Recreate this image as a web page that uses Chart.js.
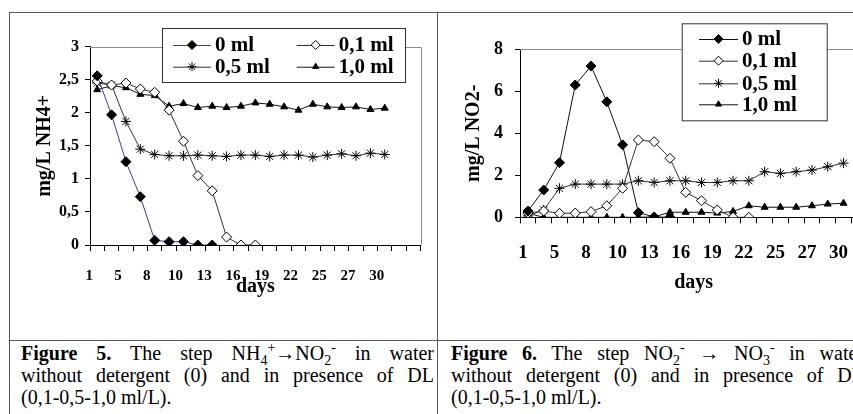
<!DOCTYPE html>
<html>
<head>
<meta charset="utf-8">
<script src="https://cdn.jsdelivr.net/npm/chart.js@4.4.0/dist/chart.umd.min.js"></script>
<style>
body { margin:0; width:853px; height:414px; overflow:hidden; background:#fff; position:relative;
       font-family:"Liberation Serif","Times New Roman",serif; }
.ln { position:absolute; background:#5a5a5a; }
canvas { position:absolute; }
.cap { position:absolute; top:342px; width:413px; font-size:20px; line-height:22px; color:#000; }
.cap div { text-align:justify; text-align-last:justify; }
.cap div.last { text-align-last:left; }
sub, sup { font-size:0.7em; line-height:0; }
</style>
</head>
<body>
<div class="ln" style="left:9px;top:12px;width:844px;height:1px"></div>
<div class="ln" style="left:9px;top:12px;width:1px;height:402px"></div>
<div class="ln" style="left:437px;top:12px;width:1px;height:402px"></div>
<div class="ln" style="left:9px;top:340px;width:844px;height:1px"></div>

<canvas id="fig5" width="427" height="326" style="left:10px;top:13px"></canvas>
<canvas id="fig6" width="460" height="326" style="left:438px;top:13px"></canvas>

<div class="cap" style="left:21px">
  <div><b>Figure 5.</b> The step NH<sub>4</sub><sup>+</sup>→NO<sub>2</sub><sup>-</sup> in water</div>
  <div>without detergent (0) and in presence of DL</div>
  <div class="last">(0,1-0,5-1,0 ml/L).</div>
</div>
<div class="cap" style="left:451px">
  <div><b>Figure 6.</b> The step NO<sub>2</sub><sup>-</sup> → NO<sub>3</sub><sup>-</sup> in water</div>
  <div>without detergent (0) and in presence of DL</div>
  <div class="last">(0,1-0,5-1,0 ml/L).</div>
</div>

<script>
// day labels shown under every second category
var dayTicks = ['1', '5', '8', '10', '13', '16', '19', '22', '25', '27', '30'];
var seriesNames = ['0 ml', '0,1 ml', '0,5 ml', '1,0 ml'];

// Figure 5 - NH4+ (mg/L)
var nh4_0 = [2.56, 1.97, 1.26, 0.73, 0.07, 0.05, 0.05, 0, 0];
var nh4_01 = [2.48, 2.42, 2.45, 2.36, 2.31, 2.04, 1.57, 1.05, 0.82, 0.12, 0, 0];
var nh4_05 = [2.45, 2.42, 1.87, 1.45, 1.37, 1.35, 1.35, 1.36, 1.35, 1.34, 1.36,
              1.36, 1.34, 1.36, 1.36, 1.33, 1.36, 1.38, 1.35, 1.39, 1.37];
var nh4_10 = [2.35, 2.41, 2.38, 2.28, 2.26, 2.10, 2.14, 2.08, 2.10, 2.08, 2.10,
              2.15, 2.13, 2.09, 2.04, 2.13, 2.09, 2.08, 2.09, 2.05, 2.07];

// Figure 6 - NO2- (mg/L)
var no2_0 = [0.3, 1.3, 2.6, 6.3, 7.2, 5.5, 3.45, 0.22, 0.02, 0];
var no2_01 = [0.2, 0.3, 0.19, 0.2, 0.27, 0.55, 1.38, 3.68, 3.6, 2.81, 1.19, 0.79, 0.35, 0, 0];
var no2_05 = [0.06, 0.35, 1.38, 1.58, 1.58, 1.58, 1.58, 1.74, 1.66, 1.74, 1.74,
              1.66, 1.66, 1.74, 1.74, 2.17, 2.09, 2.17, 2.25, 2.41, 2.58];
var no2_10 = [0.19, 0, 0, 0, 0, 0, 0, 0, 0.02, 0.24, 0.24, 0.24, 0.2, 0.28, 0.55,
              0.48, 0.48, 0.48, 0.55, 0.63, 0.67];

var markers = [
  { pointStyle: 'rectRot', radius: 5, bg: '#000' },
  { pointStyle: 'rectRot', radius: 5, bg: '#fff' },
  { pointStyle: 'star', radius: 5, bg: '#000' },
  { pointStyle: 'triangle', radius: 4, bg: '#000' }
];

Chart.defaults.font.family = '"Liberation Serif","Times New Roman",serif';
Chart.defaults.font.weight = 'bold';
Chart.defaults.color = '#000';

function categoryLabels(n) {
  var out = [];
  for (var i = 0; i < n; i++) {
    out.push(i % 2 === 0 && dayTicks[i / 2] ? dayTicks[i / 2] : '');
  }
  return out;
}

// gray frame on top and right of the plot area
var plotFrame = {
  id: 'plotFrame',
  beforeDatasetsDraw: function(chart) {
    var a = chart.chartArea, ctx = chart.ctx;
    ctx.save();
    ctx.strokeStyle = '#8a8a8a';
    ctx.lineWidth = 1;
    ctx.beginPath();
    ctx.moveTo(a.left, Math.round(a.top) + 0.5);
    ctx.lineTo(Math.round(a.right) + 0.5, Math.round(a.top) + 0.5);
    ctx.lineTo(Math.round(a.right) + 0.5, a.bottom);
    ctx.stroke();
    ctx.restore();
  }
};

// Excel style boxed legend with line + marker samples
var boxLegend = {
  id: 'boxLegend',
  afterDraw: function(chart, args, o) {
    var ctx = chart.ctx;
    ctx.save();
    ctx.fillStyle = '#fff';
    ctx.fillRect(o.box[0], o.box[1], o.box[2], o.box[3]);
    ctx.strokeStyle = '#333';
    ctx.lineWidth = 1;
    ctx.strokeRect(o.box[0] + 0.5, o.box[1] + 0.5, o.box[2], o.box[3]);
    ctx.font = 'bold 21px "Liberation Serif","Times New Roman",serif';
    ctx.textBaseline = 'middle';
    ctx.textAlign = 'left';
    chart.data.datasets.forEach(function(ds, i) {
      var p = o.items[i];
      ctx.strokeStyle = ds.borderColor;
      ctx.beginPath();
      ctx.moveTo(p[0], p[1] + 0.5);
      ctx.lineTo(p[0] + o.lineLen, p[1] + 0.5);
      ctx.stroke();
      ctx.fillStyle = ds.pointBackgroundColor;
      ctx.strokeStyle = '#000';
      Chart.helpers.drawPoint(ctx, { pointStyle: ds.pointStyle, radius: ds.pointRadius - 0.5,
        borderWidth: 1, rotation: 0 }, p[0] + o.lineLen / 2, p[1]);
      ctx.fillStyle = '#000';
      ctx.fillText(ds.label, p[0] + o.lineLen + 4, p[1] + 1);
    });
    ctx.restore();
  }
};

function makeChart(id, c) {
  var datasets = c.series.map(function(vals, i) {
    return {
      label: seriesNames[i],
      data: vals,
      borderColor: c.lineColors[i],
      borderWidth: 1,
      tension: 0,
      pointStyle: markers[i].pointStyle,
      pointRadius: markers[i].radius,
      pointBackgroundColor: markers[i].bg,
      pointBorderColor: '#000',
      pointBorderWidth: 1
    };
  });
  return new Chart(document.getElementById(id), {
    type: 'line',
    data: { labels: categoryLabels(c.nCats), datasets: datasets },
    plugins: [plotFrame, boxLegend],
    options: {
      responsive: false,
      animation: false,
      devicePixelRatio: 1,
      layout: { padding: c.pad },
      plugins: {
        legend: { display: false },
        tooltip: { enabled: false },
        boxLegend: c.legend
      },
      scales: {
        x: {
          offset: true,
          grid: { offset: true, drawOnChartArea: false, drawTicks: true, tickLength: 6,
                  color: '#000', tickColor: '#000', tickWidth: 1 },
          border: { color: '#000', width: 1 },
          ticks: { autoSkip: false, maxRotation: 0, minRotation: 0, padding: c.xPad,
                   labelOffset: c.xLabelOffset, font: { size: c.xFont } },
          title: { display: true, text: 'days', font: { size: 20 },
                   padding: { top: 0, bottom: c.xTitlePad } },
          afterFit: function(s) { s.height = c.xHeight; }
        },
        y: {
          min: 0, max: c.yMax,
          grid: { drawOnChartArea: false, drawTicks: true, tickLength: 5,
                  color: '#000', tickColor: '#000', tickWidth: 1 },
          border: { color: '#000', width: 1 },
          ticks: { stepSize: c.yStep, padding: c.yPad, font: { size: c.yFont },
                   callback: function(v) { return String(v).replace('.', ','); } },
          title: { display: true, text: c.yTitle, font: { size: 20 },
                   padding: { top: c.yTitlePad, bottom: 0 } },
          afterFit: function(s) { s.width = c.yWidth; }
        }
      }
    }
  });
}

makeChart('fig5', {
  nCats: 23,
  series: [nh4_0, nh4_01, nh4_05, nh4_10],
  lineColors: ['#3a3a9e', '#333', '#333', '#111'],
  yMax: 3, yStep: 0.5, yTitle: 'mg/L NH4+',
  pad: { left: 0, top: 33.7, right: 16.3, bottom: 34 },
  yWidth: 80, xHeight: 60,
  xFont: 15, xPad: 16, xLabelOffset: -8, xTitlePad: 6,
  yFont: 16, yPad: 6, yTitlePad: 22.7,
  legend: { box: [152, 15, 243, 54], lineLen: 38,
            items: [[163, 32], [286.7, 32], [163, 53.7], [286.7, 53.7]] }
});

makeChart('fig6', {
  nCats: 22,
  series: [no2_0, no2_01, no2_05, no2_10],
  lineColors: ['#111', '#333', '#333', '#111'],
  yMax: 8, yStep: 2, yTitle: 'mg/L NO2-',
  pad: { left: 0, top: 36.3, right: 30.8, bottom: 41.7 },
  yWidth: 82, xHeight: 80,
  xFont: 19, xPad: 18.3, xLabelOffset: -5, xTitlePad: 2.3,
  yFont: 18, yPad: 12, yTitlePad: 23.8,
  legend: { box: [243.7, 10.3, 145, 97], lineLen: 39,
            items: [[261, 26], [261, 47.7], [261, 70.3], [261, 91.3]] }
});
</script>
</body>
</html>
